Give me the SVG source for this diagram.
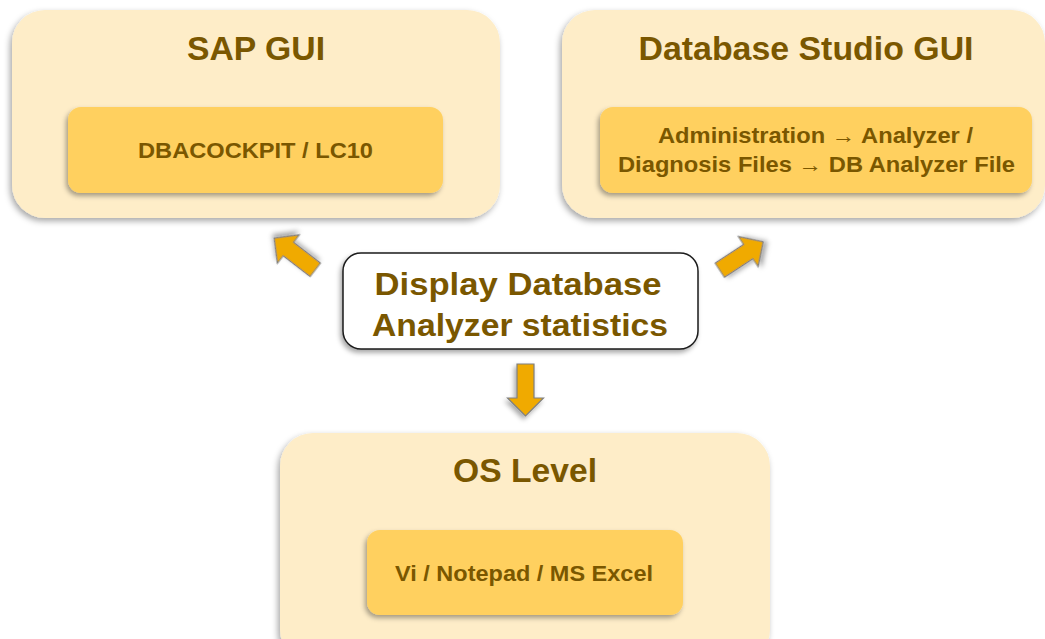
<svg xmlns="http://www.w3.org/2000/svg" width="1045" height="639" viewBox="0 0 1045 639">
<defs>
<filter id="sh" x="-10%" y="-10%" width="120%" height="130%">
<feDropShadow dx="-2" dy="3" stdDeviation="3" flood-color="#000" flood-opacity="0.35"/>
</filter>
<filter id="shs" x="-30%" y="-30%" width="160%" height="160%">
<feDropShadow dx="-2" dy="3" stdDeviation="2.5" flood-color="#000" flood-opacity="0.35"/>
</filter>
<polygon id="arr" points="-8.5,0 8.5,0 8.5,34 18,34 0,52 -18,34 -8.5,34"/>
</defs>
<style>
.outer{fill:#FEEDC8;filter:url(#sh)}
.inner{fill:#FFD05F;filter:url(#shs)}
.t{font-family:"Liberation Sans",Arial,sans-serif;font-weight:bold;fill:#7A5700;text-anchor:middle}
.title{font-size:34px}
.lbl{font-size:22px}
.big{font-size:31px}
.arrow{fill:#F0AA00;stroke:#7F7F7F;stroke-width:1.2;filter:url(#shs)}
</style>
<rect width="1045" height="639" fill="#FFFFFF"/>
<g id="sap-gui">
<rect class="outer" x="12" y="10" width="488" height="208" rx="33"/>
<text class="t title" x="256" y="60" textLength="138" lengthAdjust="spacingAndGlyphs">SAP GUI</text>
<rect class="inner" x="68" y="107" width="375" height="86" rx="13"/>
<text class="t lbl" x="255.5" y="158" textLength="235" lengthAdjust="spacingAndGlyphs">DBACOCKPIT / LC10</text>
</g>
<g id="db-studio-gui">
<rect class="outer" x="562" y="10" width="483" height="208" rx="33"/>
<text class="t title" x="806" y="60" textLength="335" lengthAdjust="spacingAndGlyphs">Database Studio GUI</text>
<rect class="inner" x="600" y="107" width="432" height="86" rx="13"/>
<text class="t lbl" x="815.5" y="143" textLength="315" lengthAdjust="spacingAndGlyphs">Administration → Analyzer /</text>
<text class="t lbl" x="816.5" y="172" textLength="397" lengthAdjust="spacingAndGlyphs">Diagnosis Files → DB Analyzer File</text>
</g>
<g id="display-stats">
<rect x="343" y="253" width="355" height="96" rx="18" fill="#FFFFFF" stroke="#1A1A1A" stroke-width="1.5" filter="url(#shs)"/>
<text class="t big" x="518" y="295" textLength="287" lengthAdjust="spacingAndGlyphs">Display Database</text>
<text class="t big" x="520" y="336" textLength="296" lengthAdjust="spacingAndGlyphs">Analyzer statistics</text>
</g>
<g id="os-level">
<rect class="outer" x="280" y="433" width="490" height="230" rx="33"/>
<text class="t title" x="525" y="482" textLength="144" lengthAdjust="spacingAndGlyphs">OS Level</text>
<rect class="inner" x="367" y="530" width="316" height="85" rx="13"/>
<text class="t lbl" x="524" y="581" textLength="258" lengthAdjust="spacingAndGlyphs">Vi / Notepad / MS Excel</text>
</g>
<g id="connectors">
<use href="#arr" class="arrow" transform="translate(315.3,269.8) rotate(127.6)"/>
<use href="#arr" class="arrow" transform="translate(719.8,270.2) rotate(-123.2)"/>
<use href="#arr" class="arrow" transform="translate(525.5,364)"/>
</g>
</svg>
